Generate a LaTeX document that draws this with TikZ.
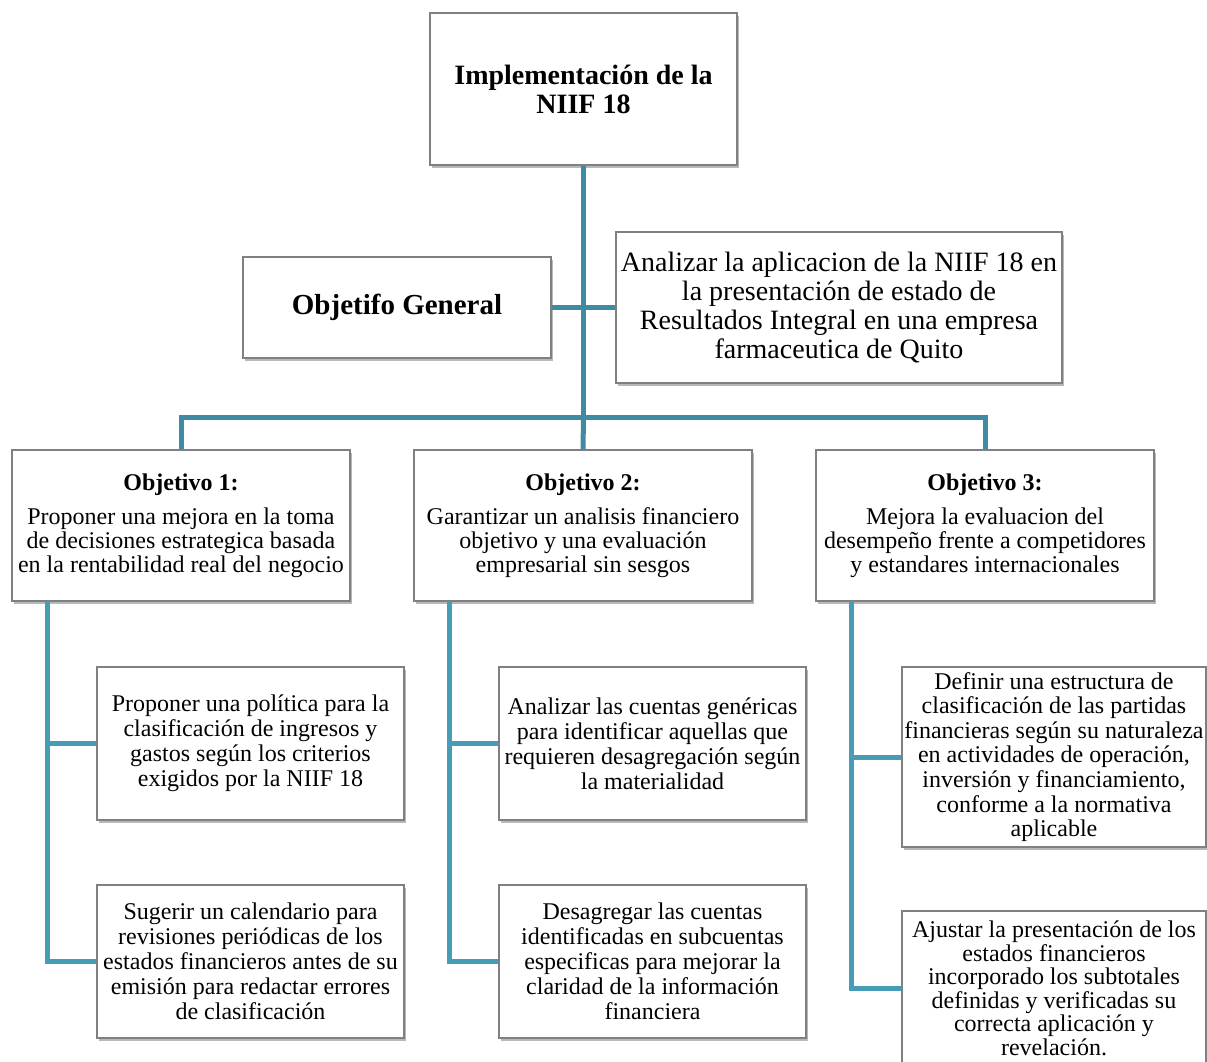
\documentclass[tikz,border=0pt]{standalone}
\usepackage{fontspec}
\setmainfont{Liberation Serif}
\usetikzlibrary{shadows}
\definecolor{lineA}{RGB}{62,139,163}
\definecolor{lineB}{RGB}{72,157,182}
\definecolor{boxgray}{RGB}{128,128,128}
\tikzset{
  box/.style={draw=boxgray, line width=1.1pt, fill=white, align=center, inner sep=0pt,
    drop shadow={opacity=0.28, shadow xshift=2pt, shadow yshift=-3pt, fill=black}},
  conn/.style={line width=5pt, draw=lineA},
  connB/.style={line width=5pt, draw=lineB},
  fbody/.style={font=\fontsize{24}{25}\selectfont},
  fobj/.style={font=\fontsize{24}{24}\selectfont},
}
\begin{document}
\begin{tikzpicture}[x=1pt,y=-1pt]
\useasboundingbox (0,0) rectangle (1207,1061);
% top
\node[box, minimum width=307, minimum height=152, font=\fontsize{28}{29}\selectfont\bfseries] (top) at (583.5,89) {Implementación de la\\NIIF 18};
\node[box, minimum width=308, minimum height=101, font=\fontsize{29}{30}\selectfont\bfseries] (og) at (397,307.5) {Objetifo General};
\node[box, minimum width=446, minimum height=151, font=\fontsize{28}{28.7}\selectfont] (rb) at (839,307.5) {Analizar la aplicacion de la NIIF 18 en\\la presentación de estado de\\Resultados Integral en una empresa\\farmaceutica de Quito};
% objectives
\node[box, fobj, minimum width=338, minimum height=151] (o1) at (181,525.5) {{\bfseries Objetivo 1:}\\[10pt]Proponer una mejora en la toma\\de decisiones estrategica basada\\en la rentabilidad real del negocio};
\node[box, fobj, minimum width=338, minimum height=151] (o2) at (583,525.5) {{\bfseries Objetivo 2:}\\[10pt]Garantizar un analisis financiero\\objetivo y una evaluación\\empresarial sin sesgos};
\node[box, fobj, minimum width=338, minimum height=151] (o3) at (985,525.5) {{\bfseries Objetivo 3:}\\[10pt]Mejora la evaluacion del\\desempeño frente a competidores\\y estandares internacionales};
% sub boxes
\node[box, fbody, minimum width=307, minimum height=153] (s11) at (250.5,743.5) {Proponer una política para la\\clasificación de ingresos y\\gastos según los criterios\\exigidos por la NIIF 18};
\node[box, fbody, minimum width=307, minimum height=153] (s12) at (250.5,961.5) {Sugerir un calendario para\\revisiones periódicas de los\\estados financieros antes de su\\emisión para redactar errores\\de clasificación};
\node[box, fbody, minimum width=307, minimum height=153] (s21) at (652.5,743.5) {Analizar las cuentas genéricas\\para identificar aquellas que\\requieren desagregación según\\la materialidad};
\node[box, fbody, minimum width=307, minimum height=153] (s22) at (652.5,961.5) {Desagregar las cuentas\\identificadas en subcuentas\\especificas para mejorar la\\claridad de la información\\financiera};
\node[box, font=\fontsize{24}{24.6}\selectfont, minimum width=304, minimum height=180] (s31) at (1054,757) {Definir una estructura de\\clasificación de las partidas\\financieras según su naturaleza\\en actividades de operación,\\inversión y financiamiento,\\conforme a la normativa\\aplicable};
\node[box, font=\fontsize{24}{23.5}\selectfont, minimum width=304, minimum height=155] (s32) at (1054,988.5) {Ajustar la presentación de los\\estados financieros\\incorporado los subtotales\\definidas y verificadas su\\correcta aplicación y\\revelación.};
% coordinates
\coordinate (j) at (583.5,417);
\coordinate (b1) at (47,601);
\coordinate (b2) at (449,601);
\coordinate (b3) at (851,601);
% connectors
\draw[conn] (top.south) -- (j);
\draw[conn] (og.east) -- (rb.west);
\draw[conn] (o1.north) |- (j) -| (o3.north);
\draw[conn] (j) -- (o2.north);
\draw[connB] (b1) |- (s11.west);
\draw[connB] (b1) |- (s12.west);
\draw[connB] (b2) |- (s21.west);
\draw[connB] (b2) |- (s22.west);
\draw[connB] (b3) |- (s31.west);
\draw[connB] (b3) |- (s32.west);
\end{tikzpicture}
\end{document}
